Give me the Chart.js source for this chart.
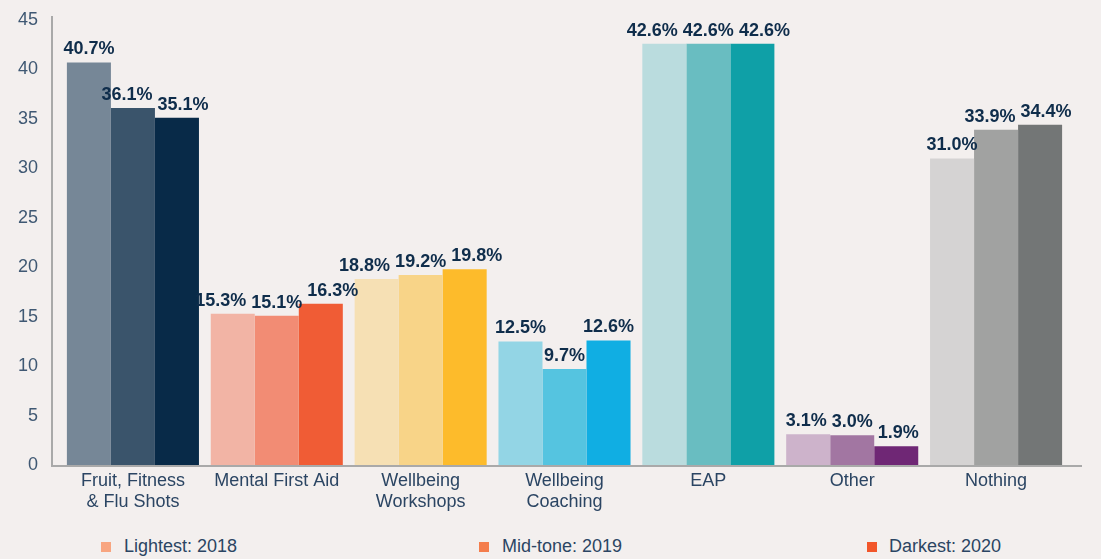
<!DOCTYPE html>
<html>
<head>
<meta charset="utf-8">
<title>Wellbeing benefits offered</title>
<script src="https://cdn.jsdelivr.net/npm/chart.js@4.4.1/dist/chart.umd.min.js"></script>
<style>
  html, body { margin: 0; padding: 0; background: #f3efee; }
  body { width: 1101px; height: 559px; position: relative; overflow: hidden; font-family: 'Liberation Sans', Arial, sans-serif; }
  #chart { position: absolute; left: 0; top: 0; }
  .legend-box { position: absolute; width: 10px; height: 10px; top: 542px; }
  .legend-text { position: absolute; top: 537px; font-size: 18px; line-height: 18px; color: #2b4563; white-space: nowrap; }
</style>
</head>
<body>
<canvas id="chart" width="1101" height="520"></canvas>

<span class="legend-box" style="left:101px;background:#f8a580"></span>
<span class="legend-text" style="left:124px">Lightest: 2018</span>
<span class="legend-box" style="left:479px;background:#f47d4c"></span>
<span class="legend-text" style="left:502px">Mid-tone: 2019</span>
<span class="legend-box" style="left:867px;background:#f2562a"></span>
<span class="legend-text" style="left:889px">Darkest: 2020</span>

<script>
const categories = [
  ['Fruit, Fitness', '& Flu Shots'],
  'Mental First Aid',
  ['Wellbeing', 'Workshops'],
  ['Wellbeing', 'Coaching'],
  'EAP',
  'Other',
  'Nothing',
];
const values2018 = [40.7, 15.3, 18.8, 12.5, 42.6, 3.1, 31.0];
const values2019 = [36.1, 15.1, 19.2, 9.7, 42.6, 3.0, 33.9];
const values2020 = [35.1, 16.3, 19.8, 12.6, 42.6, 1.9, 34.4];
const yTicks = [0, 5, 10, 15, 20, 25, 30, 35, 40, 45];

// each category has its own colour family: light / mid / dark
const colors2018 = ['#768797', '#f2b4a5', '#f6e0b4', '#93d5e5', '#badcde', '#cdb3cb', '#d5d3d3'];
const colors2019 = ['#3a546b', '#f28c74', '#f8d488', '#55c4e0', '#69bdc1', '#a276a2', '#a1a2a1'];
const colors2020 = ['#082a48', '#f05c35', '#fdbb2b', '#10aee3', '#0fa0a7', '#6f2775', '#737676'];

const FONT = "'Liberation Sans', Arial, sans-serif";
const LABEL_HEIGHT = 15;
const LABEL_GAP = 5;

const axisLines = {
  id: 'axisLines',
  afterDraw(chart) {
    const ctx = chart.ctx;
    const area = chart.chartArea;
    ctx.save();
    ctx.strokeStyle = '#a9a9a9';
    ctx.lineWidth = 2;
    ctx.beginPath();
    ctx.moveTo(52, 16);
    ctx.lineTo(52, area.bottom + 1);
    ctx.lineTo(1082, area.bottom + 1);
    ctx.stroke();
    ctx.restore();
  },
};

// value labels above the bars, pushed apart sideways when they collide
const valueLabels = {
  id: 'valueLabels',
  afterDatasetsDraw(chart) {
    const ctx = chart.ctx;
    ctx.save();
    ctx.font = `bold 18px ${FONT}`;
    ctx.fillStyle = '#0f2d4b';
    ctx.textAlign = 'center';
    ctx.textBaseline = 'alphabetic';

    chart.data.labels.forEach((_, j) => {
      const items = chart.data.datasets.map((dataset, i) => {
        const bar = chart.getDatasetMeta(i).data[j];
        const text = dataset.data[j].toFixed(1) + '%';
        return { text, x: bar.x, y: bar.y - 8, w: ctx.measureText(text).width };
      });

      for (let iter = 0; iter < 30; iter++) {
        for (let k = 0; k < items.length - 1; k++) {
          const a = items[k];
          const b = items[k + 1];
          if (Math.abs(a.y - b.y) >= LABEL_HEIGHT) continue;
          const need = (a.w + b.w) / 2 + LABEL_GAP;
          const dist = b.x - a.x;
          if (dist < need) {
            const shift = (need - dist) / 2;
            a.x -= shift;
            b.x += shift;
          }
        }
      }

      items.forEach((item) => ctx.fillText(item.text, item.x, item.y));
    });
    ctx.restore();
  },
};

new Chart(document.getElementById('chart'), {
  type: 'bar',
  data: {
    labels: categories,
    datasets: [
      { label: '2018', data: values2018, backgroundColor: colors2018 },
      { label: '2019', data: values2019, backgroundColor: colors2019 },
      { label: '2020', data: values2020, backgroundColor: colors2020 },
    ],
  },
  options: {
    responsive: false,
    animation: false,
    layout: { padding: { top: 17, right: 33, left: 0, bottom: 0 } },
    datasets: {
      bar: { barPercentage: 1, categoryPercentage: 0.918, borderWidth: 0 },
    },
    scales: {
      x: {
        grid: { display: false, drawTicks: false },
        border: { display: false },
        ticks: {
          padding: 5,
          color: '#2b4563',
          maxRotation: 0,
          autoSkip: false,
          font: { family: FONT, size: 18, lineHeight: 1.2 },
        },
        afterFit(scale) { scale.height = 55; },
      },
      y: {
        min: 0,
        max: 45.3,
        grid: { display: false, drawTicks: false },
        border: { display: false },
        ticks: {
          padding: 23,
          color: '#3f5873',
          font: { family: FONT, size: 18 },
        },
        afterBuildTicks(scale) { scale.ticks = yTicks.map((v) => ({ value: v })); },
        afterFit(scale) {
          scale.width = 61;
          // tick padding is meant for the horizontal gap only
          scale.paddingTop = 0;
          scale.paddingBottom = 0;
        },
      },
    },
    plugins: {
      legend: { display: false },
      tooltip: { enabled: false },
    },
  },
  plugins: [axisLines, valueLabels],
});
</script>
</body>
</html>
